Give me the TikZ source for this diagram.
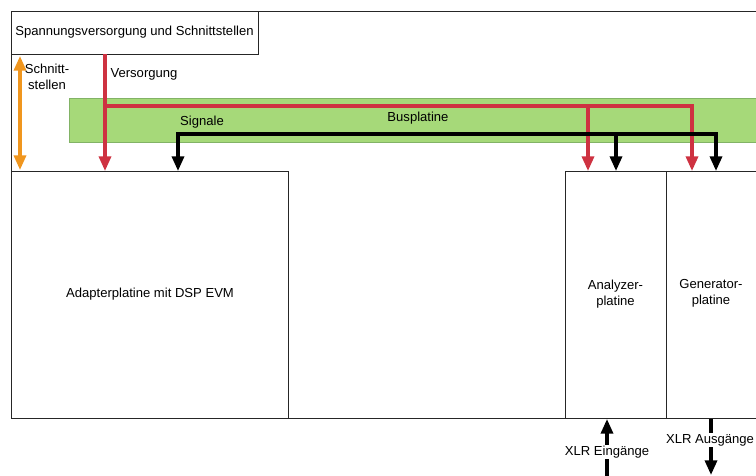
\documentclass[tikz,border=0pt]{standalone}
\usepackage{fontspec}
\setmainfont{Liberation Sans}
\usetikzlibrary{arrows.meta,fit}
\definecolor{busfill}{HTML}{A6D979}
\definecolor{busline}{HTML}{82B366}
\definecolor{supplyred}{HTML}{CE3241}
\definecolor{ifaceorange}{HTML}{F0961E}
\begin{document}
\begin{tikzpicture}[x=0.75pt,y=-0.75pt,
  font=\fontsize{9.8}{12}\selectfont,
  board/.style={draw=black!85, line width=0.75pt, fill=white, inner sep=0pt},
  bus/.style={draw=busline, line width=0.75pt, fill=busfill, inner sep=0pt},
  lbl/.style={inner sep=1pt, align=center},
  tip/.style={-{Triangle[width=9pt,length=11pt]}},
  supply/.style={draw=supplyred, line width=2.5pt},
  signal/.style={draw=black, line width=2.5pt},
  iface/.style={draw=ifaceorange, line width=2.5pt}]
\useasboundingbox (0,0) rectangle (756,475);
\clip (0,0) rectangle (756,475);

% frame of the whole unit
\coordinate (f1) at (11,11);  \coordinate (f2) at (780,418);
\node[board, fit=(f1)(f2)] (frame) {};

% bus board strip
\coordinate (b1) at (69,98);  \coordinate (b2) at (780,142);
\node[bus, fit=(b1)(b2)] (bus) {};
\node[lbl] (buslbl) at (418,118) {Busplatine};

% power supply and interfaces
\coordinate (s1) at (11,11);  \coordinate (s2) at (258,54);
\node[board, fit=(s1)(s2)] (supplybox) {};
\node[lbl] at (supplybox.center) {Spannungsversorgung und Schnittstellen};

% adapter board
\coordinate (a1) at (11,171);  \coordinate (a2) at (288,418);
\node[board, fit=(a1)(a2)] (adapter) {};
\node[lbl] at (150,294) {Adapterplatine mit DSP EVM};

% analyzer board
\coordinate (n1) at (565,171);  \coordinate (n2) at (666,418);
\node[board, fit=(n1)(n2)] (analyzer) {};
\node[lbl] at (analyzer.center) {Analyzer-\\platine};

% generator board
\coordinate (g1) at (666,171);  \coordinate (g2) at (780,418);
\node[board, fit=(g1)(g2)] (generator) {};
\node[lbl] at (711,293) {Generator-\\platine};

% interfaces (orange, both ways)
\coordinate (if1) at (20,56);
\coordinate (if2) at (20,170);
\draw[iface, {Triangle[width=9pt,length=11pt]}-{Triangle[width=9pt,length=11pt]}] (if1) -- (if2);
\node[lbl] at (47,77) {Schnitt-\\stellen};

% supply lines (red)
\coordinate (r0) at (105,54);
\coordinate (r1) at (105,171);
\coordinate (rj) at (105,106);
\coordinate (ra) at (588,106);
\coordinate (rat) at (588,171);
\coordinate (rg) at (692,106);
\coordinate (rgt) at (692,171);
\draw[supply, tip] (r0) -- (r1);
\draw[supply, tip, line join=miter] (rj) -- (ra) -- (rat);
\draw[supply, tip, line join=miter] (ra) -- (rg) -- (rgt);
\node[lbl, anchor=west] at (109,74) {Versorgung};

% signal lines (black)
\coordinate (k0) at (178,171);
\coordinate (kc) at (178,134);
\coordinate (ka) at (616,134);
\coordinate (kat) at (616,171);
\coordinate (kg) at (716,134);
\coordinate (kgt) at (716,171);
\draw[signal, tip, line join=miter] (kg) -- (kc) -- (k0);
\draw[signal, tip] (ka) -- (kat);
\draw[signal, tip, line join=miter] (ka) -- (kg) -- (kgt);
\node[lbl] at (202,122) {Signale};

% XLR inputs and outputs
\coordinate (xi0) at (607,476);
\coordinate (xi1) at (607,419);
\draw[signal, tip] (xi0) -- (xi1);
\node[lbl, fill=white] (xin) at (607,452) {XLR Eingänge};

\coordinate (xo0) at (711,419);
\coordinate (xo1) at (711,475);
\draw[signal, tip] (xo0) -- (xo1);
\node[lbl, fill=white] (xout) at (710,440) {XLR Ausgänge};
\end{tikzpicture}
\end{document}
